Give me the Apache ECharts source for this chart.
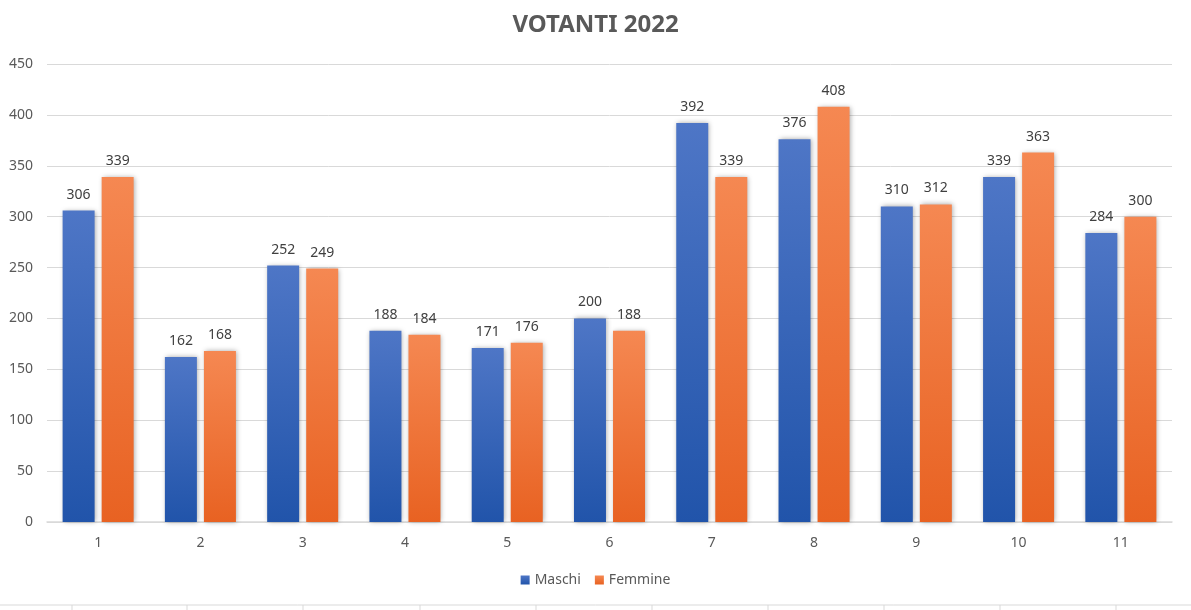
<!DOCTYPE html>
<html>
<head>
<meta charset="utf-8">
<script src="https://cdn.jsdelivr.net/npm/echarts@6/dist/echarts.min.js"></script>
<style>
html, body { margin: 0; padding: 0; background: #fff; }
#main { width: 1191px; height: 610px; }
</style>
</head>
<body>
<div id="main"></div>
<script>
var categories = ['1', '2', '3', '4', '5', '6', '7', '8', '9', '10', '11'];
var maschi = [306, 162, 252, 188, 171, 200, 392, 376, 310, 339, 284];
var femmine = [339, 168, 249, 184, 176, 188, 339, 408, 312, 363, 300];

var myChart = echarts.init(document.getElementById('main'));

var font = 'Noto Sans';

var blueGrad = new echarts.graphic.LinearGradient(0, 0, 0, 1, [
    { offset: 0, color: 'rgb(78, 118, 198)' },
    { offset: 1, color: 'rgb(33, 84, 170)' }
]);
var orangeGrad = new echarts.graphic.LinearGradient(0, 0, 0, 1, [
    { offset: 0, color: 'rgb(245, 136, 82)' },
    { offset: 1, color: 'rgb(232, 98, 34)' }
]);

// cell borders of the sheet under the chart
var cellLines = [{
    type: 'line',
    shape: { x1: 0, y1: 605, x2: 1191, y2: 605 },
    style: { stroke: '#d9d9d9', lineWidth: 1 }
}];
[72, 187, 303, 420, 536, 652, 768, 884, 1000, 1116].forEach(function (x) {
    cellLines.push({
        type: 'line',
        shape: { x1: x, y1: 605, x2: x, y2: 610 },
        style: { stroke: '#d9d9d9', lineWidth: 1 }
    });
});

var labelStyle = {
    show: true,
    position: 'top',
    distance: 9,
    color: '#404040',
    fontFamily: font,
    fontSize: 14
};

var option = {
    animation: false,
    title: {
        text: 'VOTANTI 2022',
        left: 'center',
        top: 8,
        textStyle: {
            fontFamily: font,
            fontSize: 24,
            fontWeight: 'bold',
            color: '#595959'
        }
    },
    legend: {
        bottom: 18,
        left: 'center',
        itemWidth: 9,
        itemHeight: 9,
        itemGap: 14,
        icon: 'rect',
        textStyle: { fontFamily: font, fontSize: 14, color: '#595959' },
        data: ['Maschi', 'Femmine']
    },
    grid: {
        left: 47,
        right: 19,
        top: 64,
        bottom: 88,
        containLabel: false
    },
    xAxis: {
        type: 'category',
        data: categories,
        axisLine: { lineStyle: { color: '#d9d9d9', width: 1.5 } },
        axisTick: { show: false },
        axisLabel: {
            margin: 14,
            color: '#595959',
            fontFamily: font,
            fontSize: 14
        }
    },
    yAxis: {
        type: 'value',
        min: 0,
        max: 450,
        interval: 50,
        axisLine: { show: false },
        axisTick: { show: false },
        splitLine: { lineStyle: { color: '#d9d9d9', width: 1 } },
        axisLabel: {
            margin: 14,
            color: '#595959',
            fontFamily: font,
            fontSize: 14
        }
    },
    series: [{
        name: 'Maschi',
        type: 'bar',
        data: maschi,
        barWidth: 32,
        barGap: '22%',
        itemStyle: {
            color: blueGrad,
            shadowColor: 'rgba(0,0,0,0.35)',
            shadowBlur: 5,
            shadowOffsetX: 1
        },
        label: labelStyle
    }, {
        name: 'Femmine',
        type: 'bar',
        data: femmine,
        barWidth: 32,
        itemStyle: {
            color: orangeGrad,
            shadowColor: 'rgba(0,0,0,0.35)',
            shadowBlur: 5,
            shadowOffsetX: 1
        },
        label: labelStyle
    }],
    graphic: cellLines
};

myChart.setOption(option);
</script>
</body>
</html>
